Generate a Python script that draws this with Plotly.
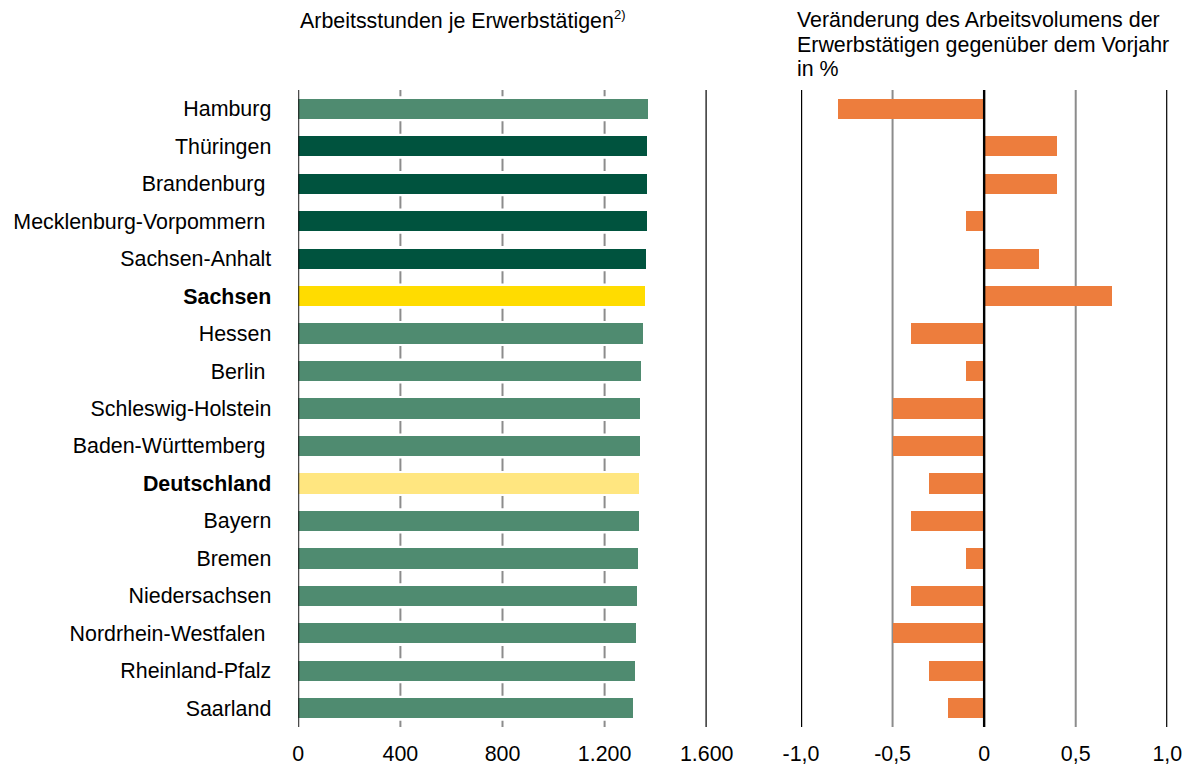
import plotly.graph_objects as go

# ---------------- data ----------------
laender = ["Hamburg", "Thüringen", "Brandenburg", "Mecklenburg-Vorpommern", "Sachsen-Anhalt",
           "Sachsen", "Hessen", "Berlin", "Schleswig-Holstein", "Baden-Württemberg",
           "Deutschland", "Bayern", "Bremen", "Niedersachsen", "Nordrhein-Westfalen",
           "Rheinland-Pfalz", "Saarland"]
tick_labels = ["Hamburg", "Thüringen", "Brandenburg\u00a0", "Mecklenburg-Vorpommern\u00a0", "Sachsen-Anhalt",
               "<b>Sachsen</b>", "Hessen", "Berlin\u00a0", "Schleswig-Holstein", "Baden-Württemberg\u00a0",
               "<b>Deutschland</b>", "Bayern", "Bremen", "Niedersachsen", "Nordrhein-Westfalen\u00a0",
               "Rheinland-Pfalz", "Saarland"]
stunden = [1373, 1369, 1369, 1368, 1363, 1359, 1351, 1343, 1341, 1339,
           1337, 1335, 1332, 1328, 1323, 1321, 1311]
veraenderung = [-0.8, 0.4, 0.4, -0.1, 0.3, 0.7, -0.4, -0.1, -0.5, -0.5,
                -0.3, -0.4, -0.1, -0.4, -0.5, -0.3, -0.2]
gruppe = ["west", "ost", "ost", "ost", "ost", "sachsen", "west", "west", "west", "west",
          "deutschland", "west", "west", "west", "west", "west", "west"]

x1_tickvals = [0, 400, 800, 1200, 1600]
x1_ticktext = ["0", "400", "800", "1.200", "1.600"]
x1_dashed = [400, 800, 1200]
x1_solid = [0, 1600]
x2_tickvals = [-1.0, -0.5, 0, 0.5, 1.0]
x2_ticktext = ["-1,0", "-0,5", "0", "0,5", "1,0"]
x2_gray = [-0.5, 0.5]
x2_black = [-1.0, 0, 1.0]

title_left = "Arbeitsstunden je Erwerbstätigen<sup><span style='font-size:13px'>2)</span></sup>"
title_right = ["Veränderung des Arbeitsvolumens der",
               "Erwerbstätigen gegenüber dem Vorjahr",
               "in %"]

# ---------------- styles ----------------
farben = {"west": "#4F8B70", "ost": "#00533E", "sachsen": "#FFDC00", "deutschland": "#FFE680"}
orange = "#ED7D3D"
FONT = "Liberation Sans, Arial, sans-serif"
FS = 21.4
W, H = 1187, 765
T, B = 90, 38
bar_w = 0.54

fig = go.Figure()
fig.add_trace(go.Bar(orientation="h", x=stunden, y=laender,
                     marker=dict(color=[farben[g] for g in gruppe], line=dict(width=0)),
                     width=bar_w, xaxis="x", yaxis="y", hoverinfo="x+y"))
fig.add_trace(go.Bar(orientation="h", x=veraenderung, y=laender,
                     marker=dict(color=orange, line=dict(width=0)),
                     width=bar_w, xaxis="x2", yaxis="y2", hoverinfo="x+y"))

n = len(laender)
shapes = []
# dashed grey grid segments between bars (left panel)
half = 0.165
for v in x1_dashed:
    for k in range(n + 1):
        b = k - 0.5
        y0 = max(b - half, -0.5)
        y1 = min(b + half, n - 0.5)
        shapes.append(dict(type="line", xref="x", yref="y", x0=v, x1=v, y0=y0, y1=y1,
                           line=dict(color="#8C8C8C", width=2), layer="below"))
for v in x1_solid:
    shapes.append(dict(type="line", xref="x", yref="y domain", x0=v, x1=v, y0=0, y1=1,
                       line=dict(color="#000000", width=2.4 if v else 1.8), layer="above"))
for v in x2_gray:
    shapes.append(dict(type="line", xref="x2", yref="y2 domain", x0=v, x1=v, y0=0, y1=1,
                       line=dict(color="#8C8C8C", width=2), layer="below"))
for v in x2_black:
    shapes.append(dict(type="line", xref="x2", yref="y2 domain", x0=v, x1=v, y0=0, y1=1,
                       line=dict(color="#000000", width=2.4), layer="above"))

ph = H - T - B
def ypaper(px):
    return (H - B - px) / ph

annotations = [dict(text=title_left, xref="paper", yref="paper", x=298 / W, y=ypaper(20),
                    xanchor="left", yanchor="middle", showarrow=False,
                    font=dict(family=FONT, size=FS, color="#000000"))]
for i, line in enumerate(title_right):
    annotations.append(dict(text=line, xref="paper", yref="paper", x=795 / W,
                            y=ypaper(20 + i * 24.5), xanchor="left", yanchor="middle",
                            showarrow=False, font=dict(family=FONT, size=FS, color="#000000")))

fig.update_layout(
    width=W, height=H,
    margin=dict(l=0, r=0, t=T, b=B, pad=0, autoexpand=False),
    paper_bgcolor="white", plot_bgcolor="white",
    showlegend=False,
    bargap=0,
    font=dict(family=FONT, size=FS, color="#000000"),
    xaxis=dict(domain=[298.3 / W, 706.7 / W], range=[0, 1600], tickvals=x1_tickvals,
               ticktext=x1_ticktext, showgrid=False, zeroline=False, showline=False,
               ticks="", ticklabelstandoff=12, anchor="y", fixedrange=True, automargin=False),
    xaxis2=dict(domain=[801 / W, 1167.3 / W], range=[-1.0, 1.0], tickvals=x2_tickvals,
                ticktext=x2_ticktext, showgrid=False, zeroline=False, showline=False,
                ticks="", ticklabelstandoff=12, anchor="y2", fixedrange=True, automargin=False),
    yaxis=dict(domain=[0, 1], type="category", categoryorder="array", categoryarray=laender,
               range=[n - 0.5, -0.5], tickvals=laender, ticktext=tick_labels,
               showgrid=False, zeroline=False, showline=False, ticks="",
               ticklabelstandoff=26, anchor="x", fixedrange=True, automargin=False),
    yaxis2=dict(domain=[0, 1], matches="y", showticklabels=False, showgrid=False,
                zeroline=False, showline=False, anchor="x2", fixedrange=True, automargin=False),
    shapes=shapes,
    annotations=annotations,
)

fig.write_html("out.html", config={"displayModeBar": False},
               post_script="document.body.style.margin='0';")
